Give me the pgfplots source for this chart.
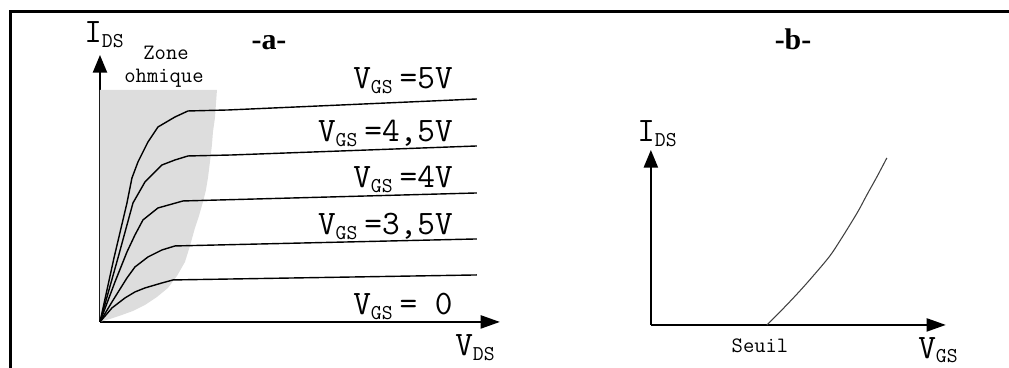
\documentclass[border=0pt]{standalone}
\usepackage{fontspec}
\setmainfont{Liberation Serif}
\usepackage{pgfplots}
\pgfplotsset{compat=1.18}
\usetikzlibrary{arrows.meta}
\definecolor{zonegray}{HTML}{DDDDDD}
% big mono label with a lowered subscript
\newcommand{\lab}[2]{{\ttfamily\fontsize{19.5}{19.5}\selectfont #1\raisebox{-0.12em}{\fontsize{12}{12}\selectfont #2}}}
\newcommand{\bigtt}[1]{{\ttfamily\fontsize{19.5}{19.5}\selectfont #1}}
\pgfplotsset{
  schema/.style={
    scale only axis, axis lines=left, clip=false,
    xtick=\empty, ytick=\empty, xmin=0, ymin=0,
    axis line style={line width=1.1pt, -{Triangle[length=11pt,width=8pt]}},
    every outer x axis line/.append style={-{Triangle[length=11pt,width=7.5pt]}},
    every outer y axis line/.append style={-{Triangle[length=10pt,width=8pt]}},
  },
  courbe/.style={line width=0.8pt, line join=round},
}
\begin{document}
\begin{tikzpicture}[x=0.02cm, y=-0.02cm]
\useasboundingbox (0,0) rectangle (1009,368);
\draw[line width=1.4pt] (10.5,368) -- (10.5,11.5) -- (1009,11.5);

\begin{scope}[y=0.02cm]
%% -a- output characteristics (axis units = pixels from the origin)
\begin{axis}[schema, at={(100,-322)}, anchor=south west,
  width=8cm, height=5.34cm, xmax=400, ymax=267]
\addplot[fill=zonegray, draw=none] coordinates {
  (0,0) (0,232) (117,232) (116,218) (115,204) (113,190) (112,177) (110,160) (108,144)
  (106,132) (103,120) (99,106) (95,94) (90,76) (85,60) (77,46) (68,34) (57,25) (45,17)
  (33,11) (22,7) (10,3) (0,0)
};
% VGS = 5V
\addplot[courbe] coordinates {
  (0,0) (14,64) (27,119) (32,144) (38,160) (48,180) (58,195) (75,205) (88,211) (128,212) (377,223)
};
% VGS = 4,5V
\addplot[courbe] coordinates {
  (0,0) (18,64) (33,119) (45,140) (62,157) (75,162) (88,166) (132,167) (377,176)
};
% VGS = 4V
\addplot[courbe] coordinates {
  (0,0) (15,40) (27,70) (35,87) (43,102) (58,114) (83,121) (377,129)
};
% VGS = 3,5V
\addplot[courbe] coordinates {
  (0,0) (12,20) (27,44) (35,55) (48,65) (62,72) (75,76) (377,83)
};
% VGS = 0 (lowest curve)
\addplot[courbe] coordinates {
  (0,0) (12,14) (25,24) (35,30) (45,34) (62,39) (73,42) (377,47)
};
\end{axis}

%% -b- transfer characteristic
\begin{axis}[schema, at={(651,-325)}, anchor=south west,
  width=5.9cm, height=3.5cm, xmax=295, ymax=175]
\addplot[line width=0.6pt, color=black!75, smooth, tension=0.6] coordinates {
  (116,0) (132,16) (149,34) (164,51) (179,69) (189,84) (199,100) (208,115) (216,130) (226,148) (236,167)
};
\end{axis}
\end{scope}

%% texts
\node[anchor=base, font=\fontsize{17}{17}\selectfont\bfseries] at (269,50) {-a-};
\node[anchor=base, font=\fontsize{17}{17}\selectfont\bfseries] at (793,50) {-b-};
\node[anchor=base west, inner sep=0pt] at (84,43) {\lab{I}{DS}};
\node[anchor=base, inner sep=0pt, font=\ttfamily\fontsize{12.5}{12.5}\selectfont] at (166,60) {Zone};
\node[anchor=base, inner sep=0pt, font=\ttfamily\fontsize{12.5}{12.5}\selectfont] at (164,83) {ohmique};
\node[anchor=base east, inner sep=0pt] at (453,89) {\lab{V}{GS}\hspace{4pt}\bigtt{=5V}};
\node[anchor=base east, inner sep=0pt] at (453,142) {\lab{V}{GS}\hspace{4pt}\bigtt{=4,5V}};
\node[anchor=base east, inner sep=0pt] at (453,188) {\lab{V}{GS}\hspace{4pt}\bigtt{=4V}};
\node[anchor=base east, inner sep=0pt] at (453,235) {\lab{V}{GS}\hspace{4pt}\bigtt{=3,5V}};
\node[anchor=base east, inner sep=0pt] at (453,315) {\lab{V}{GS}\hspace{4pt}\bigtt{= 0}};
\node[anchor=base west, inner sep=0pt] at (455,356) {\lab{V}{DS}};
\node[anchor=base west, inner sep=0pt] at (637,142) {\lab{I}{DS}};
\node[anchor=base, inner sep=0pt, font=\ttfamily\fontsize{12.5}{12.5}\selectfont] at (760,353) {Seuil};
\node[anchor=base west, inner sep=0pt] at (918,358) {\lab{V}{GS}};
\end{tikzpicture}
\end{document}
